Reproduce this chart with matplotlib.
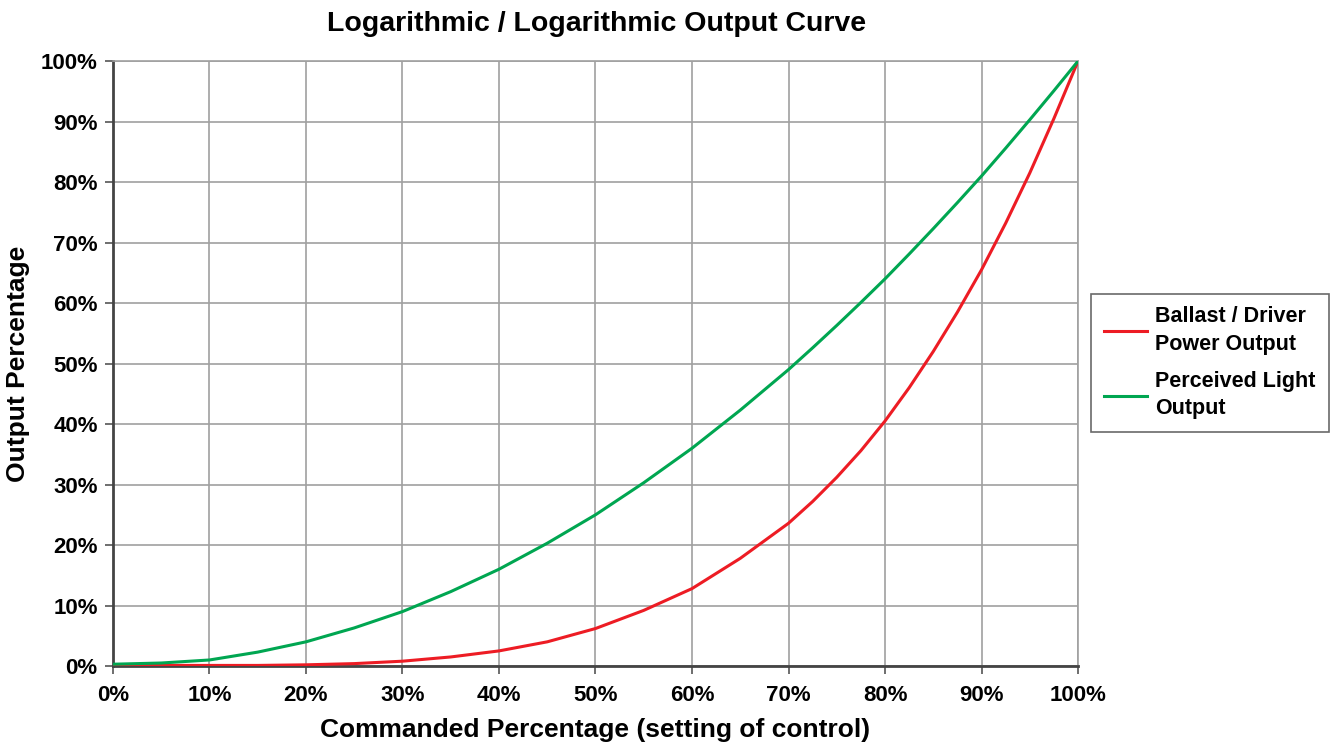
import numpy as np
import matplotlib
matplotlib.use("Agg")
import matplotlib.pyplot as plt
from matplotlib.ticker import MultipleLocator, FuncFormatter

# values (percent)
commanded = [0, 5, 10, 15, 20, 25, 30, 35, 40, 45, 50, 55, 60, 65, 70, 72.5, 75, 77.5, 80,
             82.5, 85, 87.5, 90, 92.5, 95, 97.5, 100]
ballast_output = [0.2, 0.1, 0.1, 0.1, 0.2, 0.4, 0.8, 1.5, 2.5, 4.0, 6.2, 9.2, 12.8, 17.8, 23.6,
                  27.2, 31.2, 35.6, 40.5, 46.0, 52.0, 58.5, 65.5, 73.2, 81.5, 90.5, 100]
perceived_output = [0.3, 0.5, 1.0, 2.3, 4.0, 6.3, 9.0, 12.3, 16.0, 20.3, 25.0, 30.3, 36.0, 42.3,
                    49.0, 52.6, 56.3, 60.1, 64.0, 68.1, 72.3, 76.6, 81.0, 85.6, 90.3, 95.1, 100]

plt.rcParams['font.family'] = ['Liberation Sans', 'DejaVu Sans']
plt.rcParams['font.weight'] = 'bold'

fig = plt.figure(figsize=(13.4, 7.45), dpi=100)
ax = fig.add_axes([0.0843, 0.106, 0.7202, 0.812])

ax.plot(commanded, ballast_output, color='#ed1c24', lw=2.2, label='Ballast / Driver\nPower Output',
        zorder=3, solid_joinstyle='round')
ax.plot(commanded, perceived_output, color='#00a651', lw=2.2, label='Perceived Light\nOutput',
        zorder=3, solid_joinstyle='round')

ax.set_xlim(0, 100)
ax.set_ylim(0, 100)
ax.xaxis.set_major_locator(MultipleLocator(10))
ax.yaxis.set_major_locator(MultipleLocator(10))
pct = FuncFormatter(lambda v, p: f'{v:.0f}%')
ax.xaxis.set_major_formatter(pct)
ax.yaxis.set_major_formatter(pct)
ax.tick_params(labelsize=16, length=6, width=1.2, color='#555555', pad=5)
ax.tick_params(axis='x', pad=8)
for lbl in ax.get_xticklabels() + ax.get_yticklabels():
    lbl.set_fontweight('bold')

ax.grid(True, color='#a0a0a0', lw=1.2)
ax.set_axisbelow(True)
for side in ['left', 'bottom']:
    ax.spines[side].set_color('#444444')
    ax.spines[side].set_linewidth(2)
for side in ['top', 'right']:
    ax.spines[side].set_color('#a0a0a0')
    ax.spines[side].set_linewidth(1.2)

ax.set_xlabel('Commanded Percentage (setting of control)', fontsize=19, fontweight='bold', labelpad=8)
ax.set_ylabel('Output Percentage', fontsize=19, fontweight='bold', labelpad=8)
fig.suptitle('Logarithmic / Logarithmic Output Curve', x=0.445, y=0.985, fontsize=20.5, fontweight='bold')

leg = fig.legend(loc='center left', bbox_to_anchor=(0.814, 0.5128), fontsize=15.5, frameon=True,
                 fancybox=False, edgecolor='#444444', handlelength=2.0, labelspacing=0.75,
                 borderpad=0.6, handletextpad=0.4, borderaxespad=0)
leg.get_frame().set_linewidth(1.2)
for t in leg.get_texts():
    t.set_fontweight('bold')
    t.set_linespacing(1.4)

plt.savefig('out.png', dpi=100)
